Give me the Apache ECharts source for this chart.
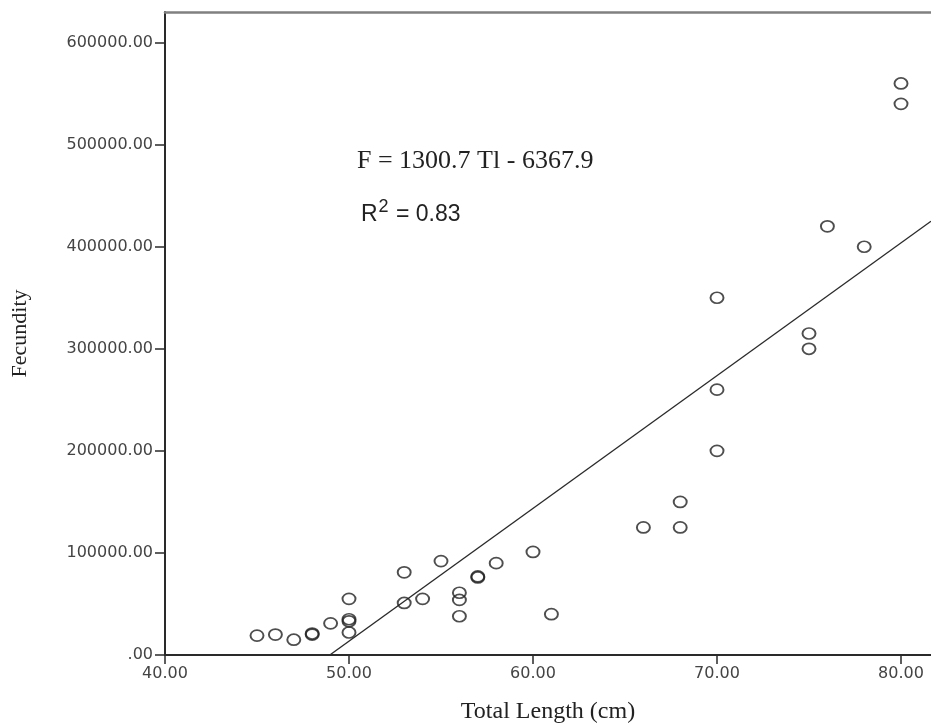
<!DOCTYPE html>
<html>
<head>
<meta charset="utf-8">
<script src="https://cdn.jsdelivr.net/npm/echarts@6/dist/echarts.min.js"></script>
<style>
  html, body { margin: 0; padding: 0; background: #fff; }
  #chart { width: 931px; height: 728px; }
</style>
</head>
<body>
<div id="chart"></div>
<script>
// Total length (cm) and fecundity of each fish
const totalLength = [45, 46, 47, 48, 48, 49, 50, 50, 50, 50, 53, 53, 54, 55, 56, 56, 56, 57, 57, 58, 60, 61,
  66, 68, 68, 70, 70, 70, 75, 75, 76, 78, 80, 80];
const fecundity = [19000, 20000, 15000, 20000, 21000, 31000, 55000, 35000, 33000, 22000, 81000, 51000, 55000,
  92000, 61000, 54000, 38000, 77000, 76000, 90000, 101000, 40000, 125000, 150000, 125000, 350000, 260000,
  200000, 315000, 300000, 420000, 400000, 560000, 540000];

// axis ticks
const xTicks = [40, 50, 60, 70, 80];
const yTicks = [0, 100000, 200000, 300000, 400000, 500000, 600000];

// linear fit F = a*TL + b
const fitSlope = 13007;
const fitIntercept = -636790;
const eqText = 'F = 1300.7 Tl - 6367.9';
const r2Text = '0.83';

const xMin = 40, xMax = 81.63;
const yMin = 0, yMax = 630000;

let points = totalLength.map((x, i) => [x, fecundity[i]]);
let xStart = -fitIntercept / fitSlope;
let fitLine = [[xStart, fitSlope * xStart + fitIntercept], [xMax, fitSlope * xMax + fitIntercept]];

let chart = echarts.init(document.getElementById('chart'));
let tickFont = { color: '#444', fontFamily: 'DejaVu Sans', fontSize: 16 };

let option = {
  animation: false,
  backgroundColor: '#fff',
  grid: { left: 165, top: 12, right: 0, bottom: 73, containLabel: false, outerBoundsMode: 'none' },
  xAxis: [
    {
      type: 'value',
      min: xMin,
      max: xMax,
      name: 'Total Length (cm)',
      nameLocation: 'middle',
      nameGap: 45,
      nameTextStyle: { color: '#222', fontFamily: 'Liberation Serif', fontSize: 24 },
      axisLine: { show: true, onZero: false, lineStyle: { color: '#2a2a2a', width: 2 } },
      axisTick: { show: true, length: 9, customValues: xTicks, lineStyle: { color: '#2a2a2a', width: 1.5 } },
      axisLabel: Object.assign({
        margin: 11,
        customValues: xTicks,
        formatter: v => v.toFixed(2)
      }, tickFont),
      splitLine: { show: false }
    },
    {
      type: 'value',
      position: 'top',
      min: xMin,
      max: xMax,
      axisLine: { show: true, onZero: false, lineStyle: { color: '#808080', width: 2.5 } },
      axisTick: { show: false },
      axisLabel: { show: false },
      splitLine: { show: false }
    }
  ],
  yAxis: {
    type: 'value',
    min: yMin,
    max: yMax,
    name: 'Fecundity',
    nameLocation: 'middle',
    nameRotate: 90,
    nameGap: 134,
    nameTextStyle: { color: '#222', fontFamily: 'Liberation Serif', fontSize: 22 },
    axisLine: { show: true, onZero: false, lineStyle: { color: '#2a2a2a', width: 2 } },
    axisTick: { show: true, length: 10, customValues: yTicks, lineStyle: { color: '#2a2a2a', width: 1.5 } },
    axisLabel: Object.assign({
      margin: 12,
      customValues: yTicks,
      formatter: v => v === 0 ? '.00' : v.toFixed(2)
    }, tickFont),
    splitLine: { show: false }
  },
  graphic: [
    {
      type: 'text',
      left: 357,
      top: 148,
      style: { text: eqText, fill: '#222', font: '26px "Liberation Serif"' }
    },
    {
      type: 'text',
      left: 361,
      top: 198,
      style: {
        text: '{b|R}{s|2}{b| = ' + r2Text + '}',
        fill: '#222',
        rich: {
          b: { fontFamily: 'Liberation Sans', fontSize: 23, color: '#222', verticalAlign: 'bottom' },
          s: { fontFamily: 'Liberation Sans', fontSize: 18, color: '#222', verticalAlign: 'top', padding: [0, 1, 10, 1] }
        }
      }
    }
  ],
  series: [
    {
      type: 'line',
      data: fitLine,
      showSymbol: false,
      symbol: 'none',
      lineStyle: { color: '#2a2a2a', width: 1.4 },
      z: 1
    },
    {
      type: 'scatter',
      data: points,
      symbol: 'circle',
      symbolSize: [13, 11],
      itemStyle: { color: 'rgba(0,0,0,0)', borderColor: '#222', borderWidth: 1.8 },
      z: 2
    }
  ]
};
chart.setOption(option);
</script>
</body>
</html>
